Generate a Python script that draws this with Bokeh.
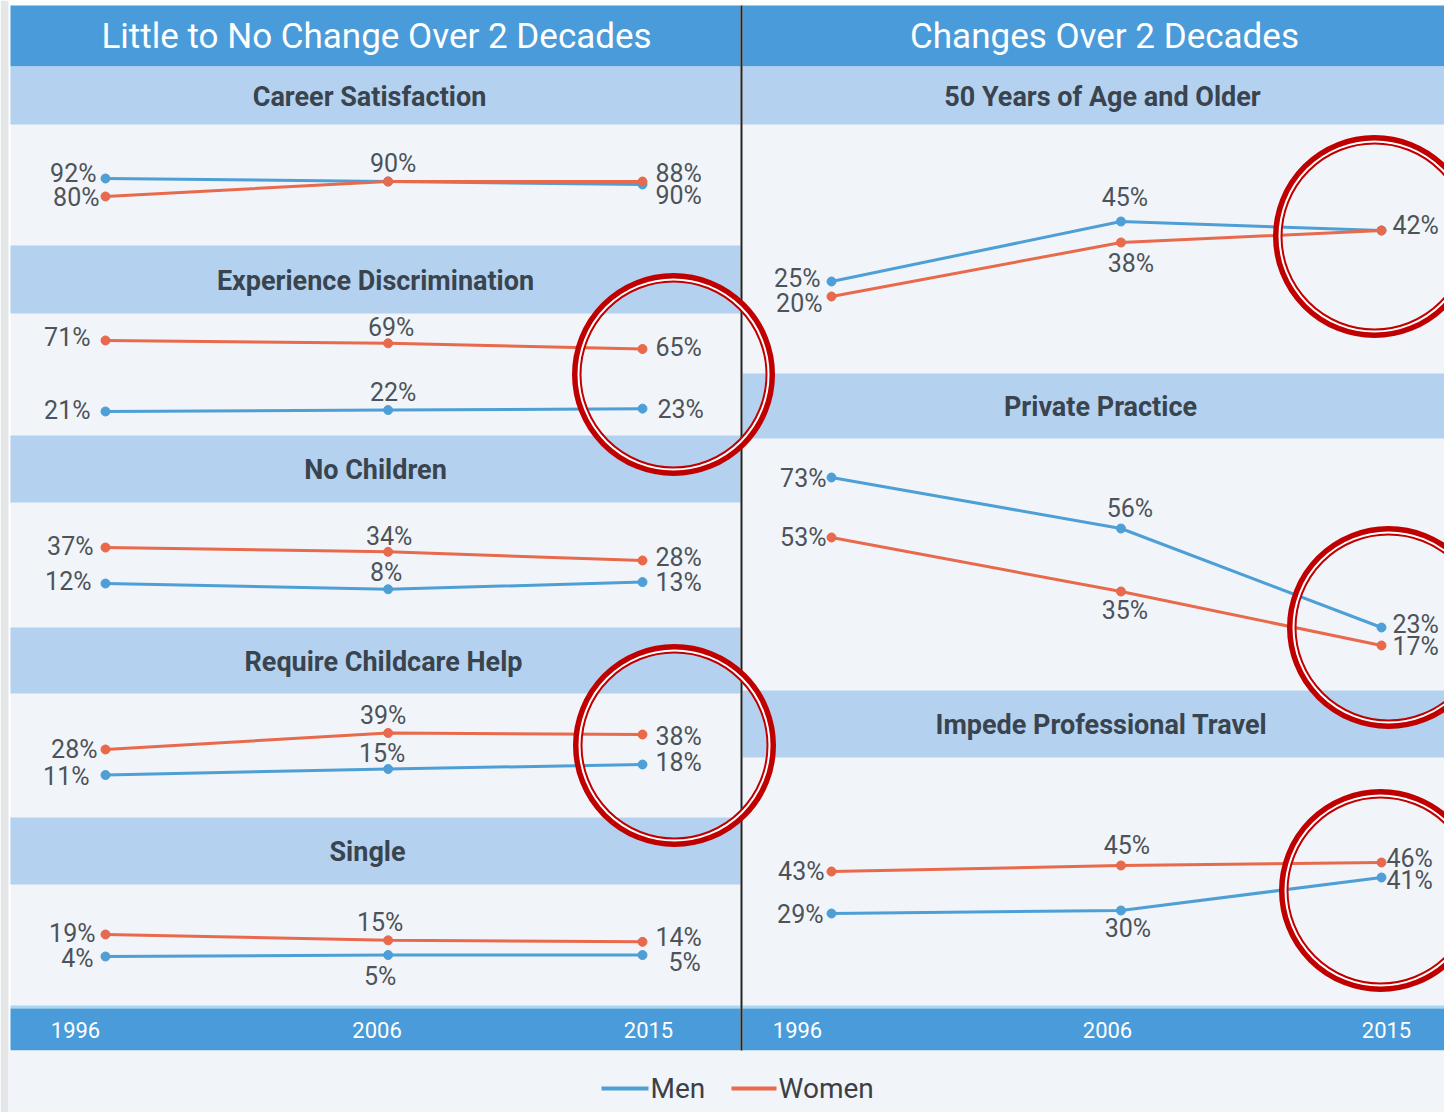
from bokeh.plotting import figure
from bokeh.models import Range1d
from bokeh.core.properties import value
from bokeh.embed import file_html
from bokeh.resources import INLINE

# ------------------------------------------------------------------ data
YEARS = [1996, 2006, 2015]
YEAR_LABELS = ["1996", "2006", "2015"]
SERIES = ["Men", "Women"]
COLUMN_TITLES = ["Little to No Change Over 2 Decades", "Changes Over 2 Decades"]

career_men = [92, 90, 88]
career_women = [80, 90, 90]
disc_men = [21, 22, 23]
disc_women = [71, 69, 65]
nochild_men = [12, 8, 13]
nochild_women = [37, 34, 28]
childcare_men = [11, 15, 18]
childcare_women = [28, 39, 38]
single_men = [4, 5, 5]
single_women = [19, 15, 14]

age50_men = [25, 45, 42]
age50_women = [20, 38, 42]
private_men = [73, 56, 23]
private_women = [53, 35, 17]
travel_men = [29, 30, 41]
travel_women = [43, 45, 46]

PANEL_TITLES = {
    "career": "Career Satisfaction",
    "disc": "Experience Discrimination",
    "nochild": "No Children",
    "childcare": "Require Childcare Help",
    "single": "Single",
    "age50": "50 Years of Age and Older",
    "private": "Private Practice",
    "travel": "Impede Professional Travel",
}
PANEL_DATA = {
    "career": (career_men, career_women),
    "disc": (disc_men, disc_women),
    "nochild": (nochild_men, nochild_women),
    "childcare": (childcare_men, childcare_women),
    "single": (single_men, single_women),
    "age50": (age50_men, age50_women),
    "private": (private_men, private_women),
    "travel": (travel_men, travel_women),
}

# ------------------------------------------------------------------ style / layout
FONT = value("Roboto")
W, H = 1444, 1112
OX, OY = 0, 0
DARK = "#4a9bd9"
LIGHT = "#b4d2ef"
BG = "#f1f5f9"
MEN_C = "#4e9fd6"
WOMEN_C = "#e8694b"
LABEL_C = "#4d5359"
HEAD_C = "#3a444e"
RING = "#c00000"

# panel layout: column, title centre x, header band (top, bottom), y-scale (px per point, pixel of 0)
# label style per point: (align, dx, dy) or None
PANELS = {
    "career": dict(col="L", tx=369, band=(66, 124), k=1.5, a=316,
                   lab=[[("r", -9, -5), ("c", 5, -18), ("l", 13, -11)],
                        [("r", -6, 1), None, ("l", 13, 14)]]),
    "disc": dict(col="L", tx=375, band=(245, 313), k=1.42, a=440.8,
                 lab=[[("r", -15, -1), ("c", 5, -18), ("l", 15, 1)],
                      [("r", -15, -3), ("c", 3, -16), ("l", 13, -1.5)]]),
    "nochild": dict(col="L", tx=375, band=(435, 502), k=1.44, a=600.3,
                    lab=[[("r", -14, -2), ("c", -2, -17), ("l", 13, 0)],
                         [("r", -12, -1), ("c", 1, -15), ("l", 13, -3)]]),
    "childcare": dict(col="L", tx=383, band=(627, 693), k=1.5, a=791,
                      lab=[[("r", -16, 1.5), ("c", -6, -15.5), ("l", 13, -2)],
                           [("r", -8, 0), ("c", -5, -17.5), ("l", 13, 2)]]),
    "single": dict(col="L", tx=367, band=(817, 884), k=1.47, a=961.9,
                   lab=[[("r", -12, 2), ("c", -8, 21.5), ("l", 26, 7.5)],
                        [("r", -10, -1), ("c", -8, -18), ("l", 13, -4)]]),
    "age50": dict(col="R", tx=1102, band=(66, 124), k=3.0, a=356,
                  lab=[[("r", -11, -3), ("c", 4, -24), ("l", 11, -5)],
                       [("r", -9, 7), ("c", 10, 21), None]]),
    "private": dict(col="R", tx=1100, band=(373, 438), k=3.0, a=696,
                    lab=[[("r", -5, 1), ("c", 9, -20), ("l", 11, -3)],
                         [("r", -5, 0), ("c", 4, 19), ("l", 11, 1)]]),
    "travel": dict(col="R", tx=1101, band=(690, 757), k=3.0, a=1000,
                   lab=[[("r", -8, 1), ("c", 7, 18), ("l", 5, 3)],
                        [("r", -7, 0), ("c", 6, -20), ("l", 5, -4)]]),
}

COLS = {"L": dict(x0=10, x1=740, tx=376), "R": dict(x0=742, x1=1444, tx=1104)}


def lin_range(v1, p1, v2, p2, lo, hi):
    s = (p2 - p1) / (v2 - v1)
    return Range1d(start=v1 + (lo - p1) / s, end=v1 + (hi - p1) / s)


p = figure(width=W, height=H,
           x_range=Range1d(OX, OX + W), y_range=Range1d(OY + H, OY),
           x_axis_type=None, y_axis_type=None,
           output_backend="svg", toolbar_location=None, min_border=0,
           background_fill_color="white", border_fill_color="white")
p.outline_line_color = None

# x scales: point scale and label scale for each column
p.extra_x_ranges = {
    "L": lin_range(1996, 105, 2015, 642, OX, OX + W),
    "R": lin_range(1996, 831, 2015, 1381, OX, OX + W),
    "Llab": lin_range(1996, 75, 2015, 648, OX, OX + W),
    "Rlab": lin_range(1996, 797, 2015, 1386, OX, OX + W),
}
yr = {}
for key, sp in PANELS.items():
    yr[key] = lin_range(0, sp["a"], 100, sp["a"] - 100 * sp["k"], OY + H, OY)
p.extra_y_ranges = yr

# ---------------- backgrounds
p.quad(left=0, right=8, top=0, bottom=H, fill_color="#e4e6e8", line_color=None)
for c in COLS.values():
    p.quad(left=c["x0"], right=c["x1"], top=5, bottom=1050, fill_color=BG, line_color=None)
    p.quad(left=c["x0"], right=c["x1"], top=5, bottom=66, fill_color=DARK, line_color=None)
    p.quad(left=c["x0"], right=c["x1"], top=1005, bottom=1008, fill_color="#a9d6f0", line_color=None)
    p.quad(left=c["x0"], right=c["x1"], top=1008, bottom=1050, fill_color=DARK, line_color=None)
p.quad(left=8, right=W, top=1050, bottom=H, fill_color=BG, line_color=None)

for i, (ck, c) in enumerate(COLS.items()):
    p.text(x=[c["tx"]], y=[36], text=[COLUMN_TITLES[i]], text_font=FONT,
           text_font_size=value("35px"), text_color="white",
           text_align="center", text_baseline="middle")

for key, sp in PANELS.items():
    c = COLS[sp["col"]]
    y0, y1 = sp["band"]
    p.quad(left=c["x0"], right=c["x1"], top=y0, bottom=y1, fill_color=LIGHT, line_color=None)
    p.text(x=[sp["tx"]], y=[(y0 + y1) / 2 + 1], text=[PANEL_TITLES[key]], text_font=FONT,
           text_font_size=value("27px"), text_font_style="bold", text_color=HEAD_C,
           text_align="center", text_baseline="middle")

# divider
p.segment(x0=[741], y0=[5], x1=[741], y1=[1050], line_color="#222222", line_width=2)

# ---------------- data lines
ALIGN = {"l": "left", "r": "right", "c": "center"}
for key, sp in PANELS.items():
    xr = sp["col"]
    for si, (vals, color) in enumerate(zip(PANEL_DATA[key], [MEN_C, WOMEN_C])):
        p.line(YEARS, vals, x_range_name=xr, y_range_name=key, line_color=color, line_width=3)
        p.scatter(YEARS, vals, x_range_name=xr, y_range_name=key, size=9,
                  fill_color=color, line_color=color)
        for al in "lrc":
            xs, ys, ts, dxs, dys = [], [], [], [], []
            for j, spec in enumerate(sp["lab"][si]):
                if spec is None or spec[0] != al:
                    continue
                xs.append(YEARS[j]); ys.append(vals[j]); ts.append(f"{vals[j]}%")
                dxs.append(spec[1]); dys.append(spec[2])
            if xs:
                p.text(x=xs, y=ys, text=ts, x_offset=dxs, y_offset=dys,
                       x_range_name=xr, y_range_name=key, text_font=FONT,
                       text_font_size=value("25px"), text_color=LABEL_C,
                       text_align=ALIGN[al], text_baseline="middle")

# ---------------- year axis labels
for xr in ["Llab", "Rlab"]:
    p.text(x=YEARS, y=[1029] * len(YEARS), text=YEAR_LABELS, x_range_name=xr,
           text_font=FONT, text_font_size=value("22px"), text_color="white",
           text_align="center", text_baseline="middle")

# ---------------- legend
sw = [(601, 648), (731, 776)]
for (a, b), name, color in zip(sw, SERIES, [MEN_C, WOMEN_C]):
    p.segment(x0=[a], y0=[1088], x1=[b], y1=[1088], line_color=color, line_width=4)
    p.text(x=[b + 2], y=[1088], text=[name], text_font=FONT, text_font_size=value("28px"),
           text_color="#3b4046", text_align="left", text_baseline="middle")

# ---------------- highlight rings
RX = [673, 674, 1374, 1388, 1380]
RY = [374, 745, 236, 627, 890]
p.ellipse(x=RX, y=RY, width=193.5, height=193.5, fill_color=None, line_color=RING, line_width=9.5)
p.ellipse(x=RX, y=RY, width=190, height=190, fill_color=None, line_color="white", line_width=2)

open("out.html", "w").write(file_html(p, INLINE))
